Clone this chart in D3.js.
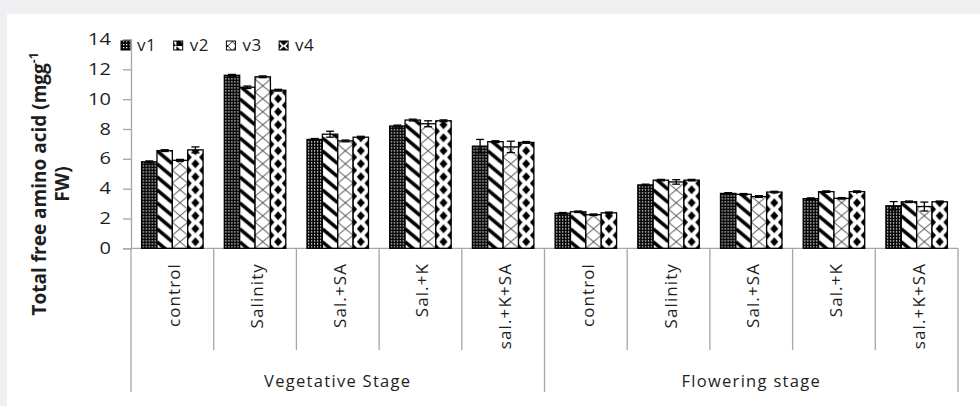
<!DOCTYPE html>
<html>
<head>
<meta charset="utf-8">
<script src="https://cdn.jsdelivr.net/npm/d3@7"></script>
<style>
  body { margin: 0; background: #eff0f2; }
  text { font-family: 'Open Sans', sans-serif; fill: #1e1e1e; }
</style>
</head>
<body>
<svg id="chart"></svg>
<script>
// data
const stages = ['Vegetative Stage', 'Flowering stage'];
const treatments = ['control', 'Salinity', 'Sal.+SA', 'Sal.+K', 'sal.+K+SA'];
const seriesNames = ['v1', 'v2', 'v3', 'v4'];
const v1 = [5.8, 11.6, 7.3, 8.2, 6.85, 2.35, 4.25, 3.68, 3.33, 2.85];
const v2 = [6.55, 10.8, 7.65, 8.6, 7.15, 2.45, 4.57, 3.62, 3.8, 3.12];
const v3 = [5.9, 11.5, 7.2, 8.35, 6.8, 2.25, 4.45, 3.47, 3.35, 2.8];
const v4 = [6.6, 10.6, 7.45, 8.55, 7.1, 2.38, 4.57, 3.77, 3.8, 3.12];
const e1 = [0.06, 0.06, 0.06, 0.06, 0.45, 0.05, 0.05, 0.05, 0.05, 0.28];
const e2 = [0.06, 0.08, 0.2, 0.06, 0.06, 0.05, 0.05, 0.05, 0.05, 0.05];
const e3 = [0.06, 0.06, 0.06, 0.2, 0.38, 0.05, 0.15, 0.06, 0.05, 0.3];
const e4 = [0.2, 0.06, 0.06, 0.06, 0.06, 0.05, 0.05, 0.05, 0.05, 0.05];
const yTicks = [0, 2, 4, 6, 8, 10, 12, 14];

const values = [v1, v2, v3, v4];
const errors = [e1, e2, e3, e4];

const width = 980;
const height = 406;
const axisColor = '#a6a6a6';

const svg = d3.select('#chart')
  .attr('width', width)
  .attr('height', height)
  .style('display', 'block');

svg.append('rect')
  .attr('x', 7).attr('y', 14)
  .attr('width', width - 7).attr('height', height - 14)
  .attr('fill', '#fff');

// categories = stage x treatment
const cats = stages.flatMap((s, si) => treatments.map((t, ti) => ({ stage: si, name: t, idx: si * treatments.length + ti })));

const xScale = d3.scaleBand()
  .domain(cats.map(d => d.idx))
  .range([131, 958]);

const xInner = d3.scaleBand()
  .domain(seriesNames)
  .range([0, xScale.bandwidth()])
  .paddingInner(0)
  .paddingOuter(0.69);

const yScale = d3.scaleLinear()
  .domain([0, 14])
  .range([248.3, 39.5]);

const bars = cats.flatMap(c => seriesNames.map((s, si) => ({
  cat: c.idx,
  series: s,
  si: si,
  value: values[si][c.idx],
  err: errors[si][c.idx],
  x: xScale(c.idx) + xInner(s)
})));

const bw = xInner.bandwidth();
const tileH = 13;

// patterns, one per bar so the tile lines up with the bar edge
const defs = svg.append('defs');

function drawTile(p, si, w) {
  if (si === 0) {
    p.append('rect').attr('width', 3).attr('height', 3).attr('fill', '#000');
    p.append('rect').attr('x', 1).attr('y', 1).attr('width', 1.3).attr('height', 1.3).attr('fill', '#fff');
  } else if (si === 1) {
    p.append('rect').attr('width', w).attr('height', tileH).attr('fill', '#fff');
    p.append('path')
      .attr('d', `M0,${-tileH / 2} L${w},${tileH / 2} M0,${tileH / 2} L${w},${tileH * 1.5}`)
      .attr('stroke', '#000').attr('stroke-width', 3.6);
  } else if (si === 2) {
    p.append('rect').attr('width', w).attr('height', tileH).attr('fill', '#fff');
    p.append('path')
      .attr('d', `M0,0 L${w},${tileH} M${w},0 L0,${tileH}`)
      .attr('stroke', '#000').attr('stroke-width', 0.8);
  } else {
    p.append('rect').attr('width', w).attr('height', tileH).attr('fill', '#fff');
    const dw = 4, dh = 4.6;
    const diamond = (cx, cy) => `M${cx},${cy - dh} L${cx + dw},${cy} L${cx},${cy + dh} L${cx - dw},${cy} Z`;
    p.append('path')
      .attr('d', diamond(w / 2, tileH / 2) + diamond(0, 0) + diamond(w, 0) + diamond(0, tileH) + diamond(w, tileH))
      .attr('fill', '#000');
  }
}

bars.forEach((b, i) => {
  const w = si => si === 0 ? 3 : bw;
  const p = defs.append('pattern')
    .attr('id', `pat-${i}`)
    .attr('patternUnits', 'userSpaceOnUse')
    .attr('x', b.x)
    .attr('y', yScale(0))
    .attr('width', w(b.si))
    .attr('height', b.si === 0 ? 3 : tileH);
  drawTile(p, b.si, w(b.si));
  b.fill = `url(#pat-${i})`;
});

// axes
const yAxis = svg.append('g')
  .attr('transform', 'translate(131,0)')
  .call(d3.axisLeft(yScale).tickValues(yTicks).tickSize(8).tickPadding(10));
yAxis.select('.domain').attr('stroke', axisColor).attr('stroke-width', 1.3);
yAxis.selectAll('.tick line').attr('stroke', axisColor).attr('stroke-width', 1.3);
// the reference digits are drawn wide, so stretch them a little
yAxis.selectAll('.tick text')
  .attr('x', null)
  .attr('transform', 'translate(-20,0) scale(1.25,1)')
  .attr('font-size', 16)
  .attr('font-family', "'Open Sans', sans-serif")
  .attr('fill', '#1e1e1e');

svg.append('line')
  .attr('x1', 131).attr('x2', 958)
  .attr('y1', yScale(0)).attr('y2', yScale(0))
  .attr('stroke', axisColor).attr('stroke-width', 1.3);

// category separators
const bounds = d3.range(cats.length + 1);
svg.selectAll('.sep')
  .data(bounds)
  .join('line')
  .attr('class', 'sep')
  .attr('x1', i => i < cats.length ? xScale(i) : xScale.range()[1])
  .attr('x2', i => i < cats.length ? xScale(i) : xScale.range()[1])
  .attr('y1', yScale(0))
  .attr('y2', i => i % treatments.length === 0 ? 392 : 350)
  .attr('stroke', axisColor)
  .attr('stroke-width', 1.3);

// bars
svg.selectAll('.bar')
  .data(bars)
  .join('rect')
  .attr('class', 'bar')
  .attr('x', d => d.x)
  .attr('y', d => yScale(d.value))
  .attr('width', bw)
  .attr('height', d => yScale(0) - yScale(d.value))
  .attr('fill', d => d.fill)
  .attr('stroke', '#000')
  .attr('stroke-width', 1.3);

// error bars
const eb = svg.selectAll('.err')
  .data(bars)
  .join('g')
  .attr('class', 'err')
  .attr('stroke', '#000')
  .attr('stroke-width', 1.3);
eb.append('line')
  .attr('x1', d => d.x + bw / 2).attr('x2', d => d.x + bw / 2)
  .attr('y1', d => yScale(d.value - d.err)).attr('y2', d => yScale(d.value + d.err));
eb.append('line')
  .attr('x1', d => d.x + bw / 2 - 4).attr('x2', d => d.x + bw / 2 + 4)
  .attr('y1', d => yScale(d.value + d.err)).attr('y2', d => yScale(d.value + d.err));
eb.append('line')
  .attr('x1', d => d.x + bw / 2 - 4).attr('x2', d => d.x + bw / 2 + 4)
  .attr('y1', d => yScale(d.value - d.err)).attr('y2', d => yScale(d.value - d.err));

// treatment labels
svg.selectAll('.cat-label')
  .data(cats)
  .join('text')
  .attr('class', 'cat-label')
  .attr('transform', d => `translate(${xScale(d.idx) + xScale.bandwidth() / 2 + 8}, 263) rotate(-90)`)
  .attr('text-anchor', 'end')
  .attr('font-size', 17)
  .attr('letter-spacing', 1.1)
  .text(d => d.name);

// stage labels
svg.selectAll('.stage-label')
  .data(stages)
  .join('text')
  .attr('class', 'stage-label')
  .attr('x', (d, i) => (xScale(i * 5) + (i === stages.length - 1 ? xScale.range()[1] : xScale((i + 1) * 5))) / 2)
  .attr('y', 387)
  .attr('text-anchor', 'middle')
  .attr('font-size', 16.5)
  .attr('letter-spacing', 1.3)
  .text(d => d);

// y title
const title = svg.append('text')
  .attr('transform', 'translate(46,184) rotate(-90)')
  .attr('text-anchor', 'middle')
  .attr('font-size', 19)
  .attr('font-weight', 'bold');
title.append('tspan').text('Total free amino acid (mgg');
title.append('tspan').attr('dy', -8).attr('font-size', 12).text('-1');
svg.append('text')
  .attr('transform', 'translate(69,184) rotate(-90)')
  .attr('text-anchor', 'middle')
  .attr('font-size', 19)
  .attr('font-weight', 'bold')
  .text('FW)');

// legend
const legend = svg.selectAll('.legend-item')
  .data(seriesNames)
  .join('g')
  .attr('class', 'legend-item')
  .attr('transform', (d, i) => `translate(${121 + i * 52.7}, 41)`);

legend.each(function(d, i) {
  const g = d3.select(this);
  const w = i === 0 ? 3 : 9;
  const p = defs.append('pattern')
    .attr('id', `leg-${i}`)
    .attr('patternUnits', 'userSpaceOnUse')
    .attr('x', 121 + i * 52.7)
    .attr('y', 41)
    .attr('width', w)
    .attr('height', i === 0 ? 3 : 9);
  if (i === 0) drawTile(p, 0, 3);
  else if (i === 1) {
    p.append('rect').attr('width', 9).attr('height', 9).attr('fill', '#fff');
    p.append('path').attr('d', 'M0,0 L9,9 L0,9 Z').attr('fill', '#000');
  } else if (i === 2) {
    p.append('rect').attr('width', 9).attr('height', 9).attr('fill', '#fff');
    p.append('path').attr('d', 'M0,0 L9,9 M9,0 L0,9').attr('stroke', '#000').attr('stroke-width', 0.8);
  } else {
    p.append('rect').attr('width', 9).attr('height', 9).attr('fill', '#fff');
    p.append('path').attr('d', 'M4.5,0.5 L8.5,4.5 L4.5,8.5 L0.5,4.5 Z M0,0 L2.5,0 L0,2.5 Z M9,0 L9,2.5 L6.5,0 Z M0,9 L0,6.5 L2.5,9 Z M9,9 L6.5,9 L9,6.5 Z').attr('fill', '#000');
  }
  g.append('rect')
    .attr('width', 9).attr('height', 9)
    .attr('fill', `url(#leg-${i})`)
    .attr('stroke', '#000').attr('stroke-width', 1);
  g.append('text')
    .attr('x', 16).attr('y', 10)
    .attr('font-size', 17)
    .attr('letter-spacing', 0.5)
    .text(d);
});
</script>
</body>
</html>
